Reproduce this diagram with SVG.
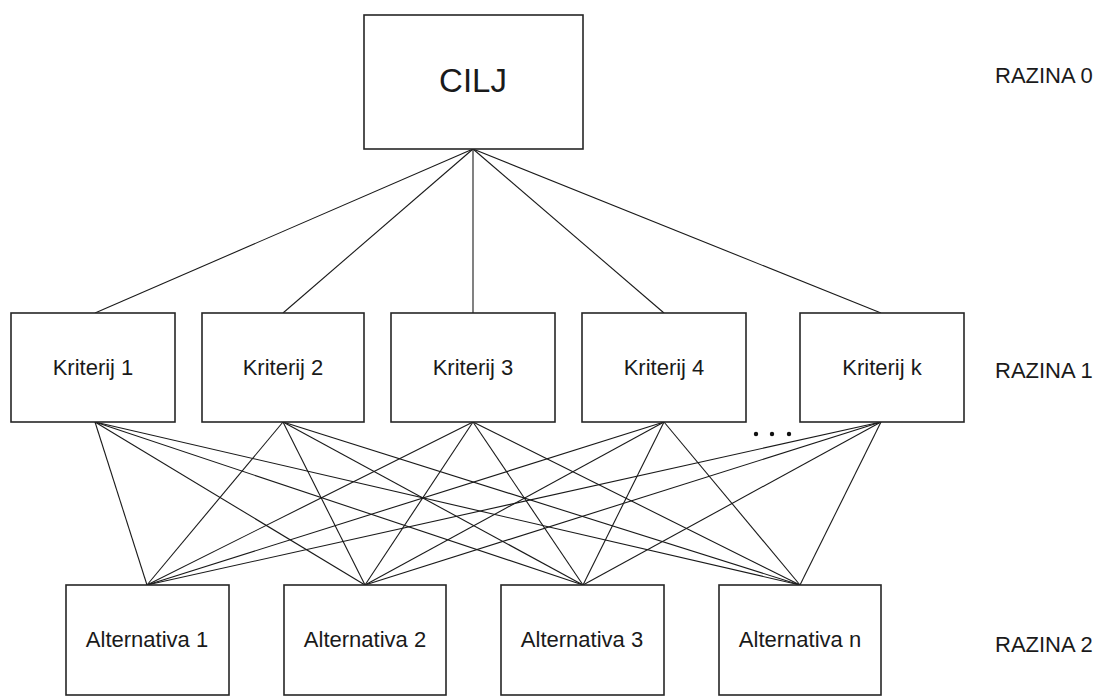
<svg xmlns="http://www.w3.org/2000/svg" width="1099" height="698" viewBox="0 0 1099 698">
<style>
.box{fill:#fff;stroke:#262626;stroke-width:1.6}
.lbl{font-family:"Liberation Sans",Arial,sans-serif;font-size:22px;fill:#1a1a1a;text-anchor:middle}
.lvl{font-family:"Liberation Sans",Arial,sans-serif;font-size:22px;fill:#1a1a1a}
.ln{stroke:#1a1a1a;stroke-width:1.1;fill:none}
</style>
<rect width="1099" height="698" fill="#fff"/>
<g id="connectors">
<line class="ln" x1="473" y1="149" x2="95" y2="313"/>
<line class="ln" x1="473" y1="149" x2="283" y2="313"/>
<line class="ln" x1="473" y1="149" x2="473" y2="313"/>
<line class="ln" x1="473" y1="149" x2="664" y2="313"/>
<line class="ln" x1="473" y1="149" x2="881" y2="313"/>
<line class="ln" x1="95" y1="422" x2="147" y2="585"/>
<line class="ln" x1="95" y1="422" x2="365" y2="585"/>
<line class="ln" x1="95" y1="422" x2="583" y2="585"/>
<line class="ln" x1="95" y1="422" x2="800" y2="585"/>
<line class="ln" x1="283" y1="422" x2="147" y2="585"/>
<line class="ln" x1="283" y1="422" x2="365" y2="585"/>
<line class="ln" x1="283" y1="422" x2="583" y2="585"/>
<line class="ln" x1="283" y1="422" x2="800" y2="585"/>
<line class="ln" x1="473" y1="422" x2="147" y2="585"/>
<line class="ln" x1="473" y1="422" x2="365" y2="585"/>
<line class="ln" x1="473" y1="422" x2="583" y2="585"/>
<line class="ln" x1="473" y1="422" x2="800" y2="585"/>
<line class="ln" x1="664" y1="422" x2="147" y2="585"/>
<line class="ln" x1="664" y1="422" x2="365" y2="585"/>
<line class="ln" x1="664" y1="422" x2="583" y2="585"/>
<line class="ln" x1="664" y1="422" x2="800" y2="585"/>
<line class="ln" x1="881" y1="422" x2="147" y2="585"/>
<line class="ln" x1="881" y1="422" x2="365" y2="585"/>
<line class="ln" x1="881" y1="422" x2="583" y2="585"/>
<line class="ln" x1="881" y1="422" x2="800" y2="585"/>
</g>
<g id="cilj"><rect class="box" x="364" y="15" width="219" height="134"/><text class="lbl" x="473" y="92" style="font-size:33px">CILJ</text></g>
<g id="k1"><rect class="box" x="11" y="313" width="164" height="109"/><text class="lbl" x="93" y="375">Kriterij 1</text></g>
<g id="k2"><rect class="box" x="202" y="313" width="162" height="109"/><text class="lbl" x="283" y="375">Kriterij 2</text></g>
<g id="k3"><rect class="box" x="391" y="313" width="164" height="109"/><text class="lbl" x="473" y="375">Kriterij 3</text></g>
<g id="k4"><rect class="box" x="582" y="313" width="164" height="109"/><text class="lbl" x="664" y="375">Kriterij 4</text></g>
<g id="kk"><rect class="box" x="800" y="313" width="164" height="109"/><text class="lbl" x="882" y="375">Kriterij k</text></g>
<g id="dots" fill="#111"><circle cx="756" cy="434" r="2.2"/><circle cx="772" cy="434" r="2.2"/><circle cx="789" cy="434" r="2.2"/></g>
<g id="a1"><rect class="box" x="66" y="585" width="163" height="110"/><text class="lbl" x="147" y="647">Alternativa 1</text></g>
<g id="a2"><rect class="box" x="284" y="585" width="162" height="110"/><text class="lbl" x="365" y="647">Alternativa 2</text></g>
<g id="a3"><rect class="box" x="501" y="585" width="163" height="110"/><text class="lbl" x="582" y="647">Alternativa 3</text></g>
<g id="an"><rect class="box" x="719" y="585" width="162" height="110"/><text class="lbl" x="800" y="647">Alternativa n</text></g>
<g id="levels">
<text class="lvl" x="995" y="83">RAZINA 0</text>
<text class="lvl" x="995" y="378">RAZINA 1</text>
<text class="lvl" x="995" y="652">RAZINA 2</text>
</g>
</svg>
